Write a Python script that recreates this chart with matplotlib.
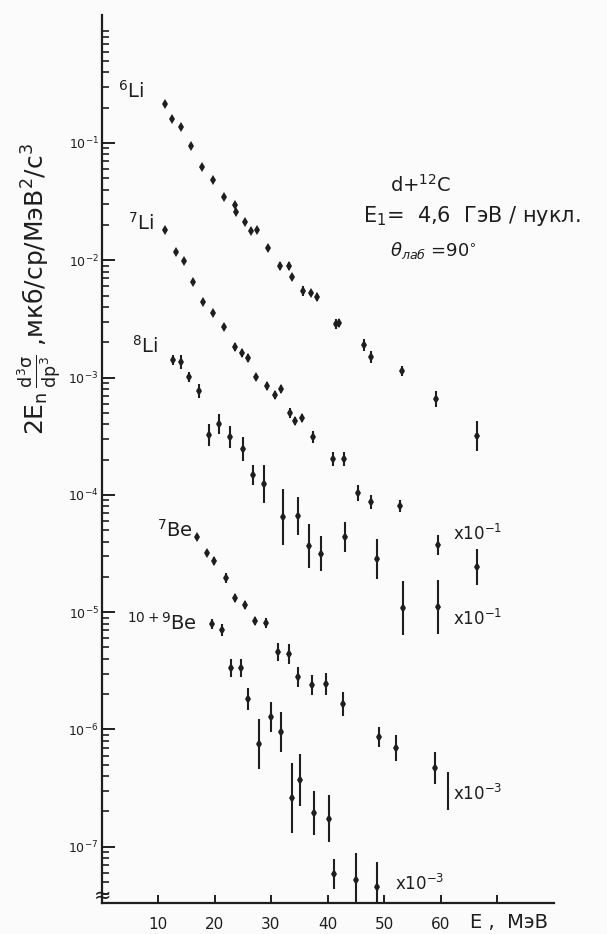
import numpy as np
import matplotlib.pyplot as plt

# d + 12C -> fragments, E = 4.6 GeV/nucleon, theta_lab = 90 deg
# energy E (MeV), invariant cross section, error half-width in decades

li6_e = [11.2, 12.5, 14.1, 15.8, 17.8, 19.7, 21.7, 23.6, 23.8, 25.4, 26.5, 27.5, 29.5,
         31.6, 33.2, 33.7, 35.7, 37.1, 38.1, 41.5, 42.0, 46.5, 47.7, 53.2, 59.2, 66.5]
li6_y = [0.215, 0.160, 0.137, 0.0943, 0.0624, 0.0484, 0.0346, 0.0296, 0.0258, 0.0212,
         0.0178, 0.0181, 0.0127, 8.94e-3, 8.94e-3, 7.21e-3, 5.47e-3, 5.26e-3, 4.87e-3,
         2.86e-3, 2.92e-3, 1.90e-3, 1.50e-3, 1.14e-3, 6.57e-4, 3.18e-4]
li6_err = [0, 0, 0, 0, 0, 0.02, 0.02, 0.02, 0.02, 0.02, 0.02, 0.02, 0.02,
           0.035, 0.035, 0.025, 0.045, 0.025, 0.035, 0.045, 0.035, 0.05, 0.05, 0.045, 0.07, 0.13]

li7_e = [11.2, 13.2, 14.6, 16.2, 18.0, 19.7, 21.7, 23.6, 24.9, 25.9, 27.3, 29.3, 30.7,
         31.8, 33.4, 34.2, 35.5, 37.4, 41.0, 42.9, 45.4, 47.7, 52.8, 59.6, 66.5]
li7_y = [0.0181, 0.0118, 9.86e-3, 6.53e-3, 4.41e-3, 3.55e-3, 2.70e-3, 1.82e-3, 1.62e-3,
         1.47e-3, 1.01e-3, 8.48e-4, 7.11e-4, 8.00e-4, 4.99e-4, 4.27e-4, 4.52e-4, 3.12e-4,
         2.02e-4, 2.02e-4, 1.04e-4, 8.70e-5, 8.04e-5, 3.74e-5, 2.43e-5]
li7_err = [0, 0, 0, 0, 0.02, 0.025, 0.025, 0.035, 0.035, 0.035, 0.025, 0.035, 0.035,
           0.035, 0.045, 0.035, 0.035, 0.05, 0.06, 0.06, 0.07, 0.06, 0.05, 0.085, 0.15]

li8_e = [12.7, 14.1, 15.5, 17.3, 19.0, 20.8, 22.7, 25.0, 26.8, 28.8, 32.1, 34.8, 36.7,
         38.8, 43.1, 48.8, 53.4, 59.6]
li8_y = [1.41e-3, 1.36e-3, 1.01e-3, 7.69e-4, 3.24e-4, 4.02e-4, 3.12e-4, 2.46e-4, 1.48e-4,
         1.24e-4, 6.48e-5, 6.61e-5, 3.67e-5, 3.14e-5, 4.38e-5, 2.84e-5, 1.09e-5, 1.11e-5]
li8_err = [0.045, 0.06, 0.045, 0.06, 0.095, 0.085, 0.095, 0.10, 0.085, 0.16, 0.24, 0.16,
           0.19, 0.15, 0.13, 0.17, 0.23, 0.23]

be7_e = [16.9, 18.7, 19.9, 22.0, 23.6, 25.4, 27.2, 29.1, 31.2, 33.2, 34.8, 37.3, 39.7,
         42.7, 49.1, 52.1, 59.0]
be7_y = [4.38e-5, 3.20e-5, 2.73e-5, 1.96e-5, 1.32e-5, 1.15e-5, 8.41e-6, 8.09e-6, 4.58e-6,
         4.40e-6, 2.80e-6, 2.40e-6, 2.44e-6, 1.65e-6, 8.63e-7, 6.96e-7, 4.70e-7]
be7_err = [0, 0.025, 0.035, 0.045, 0.035, 0.035, 0.035, 0.045, 0.08, 0.085, 0.085, 0.085,
           0.095, 0.10, 0.085, 0.11, 0.14]
# bar without a point next to the x10^-3 mark
be7_bar_e = [61.3]
be7_bar_y = [2.99e-7]
be7_bar_err = [0.16]

be109_e = [19.6, 21.3, 22.9, 24.7, 25.9, 27.9, 30.0, 31.8, 33.7, 35.1, 37.6, 40.3, 41.2,
           45.0, 48.8]
be109_y = [7.93e-6, 7.05e-6, 3.34e-6, 3.34e-6, 1.82e-6, 7.52e-7, 1.28e-6, 9.52e-7, 2.61e-7,
           3.71e-7, 1.94e-7, 1.73e-7, 5.86e-8, 5.21e-8, 4.54e-8]
be109_err = [0.045, 0.05, 0.08, 0.08, 0.095, 0.21, 0.13, 0.17, 0.30, 0.22, 0.19, 0.20,
             0.13, 0.23, 0.21]

ink = '#1e1e1e'
W, H = 607, 934

fig = plt.figure(figsize=(W / 100, H / 100), dpi=100)
fig.patch.set_facecolor('#fbfbfb')
ax = fig.add_axes([101.5 / W, 1 - 903 / H, 452 / W, 888 / H])
ax.set_facecolor('#fbfbfb')


def draw(e, y, err, marker='d'):
    y = np.array(y)
    err = np.array(err)
    lo = y - y * 10 ** (-err)
    hi = y * 10 ** err - y
    ax.errorbar(e, y, yerr=[lo, hi], fmt=marker, color=ink, ms=5.5, mew=0,
                elinewidth=1.5, capsize=0)


draw(li6_e, li6_y, li6_err)
draw(li7_e, li7_y, li7_err)
draw(li8_e, li8_y, li8_err)
draw(be7_e, be7_y, be7_err)
draw(be7_bar_e, be7_bar_y, be7_bar_err, marker='none')
draw(be109_e, be109_y, be109_err)

ax.set_yscale('log')
ax.set_xlim(0, 80)
ax.set_ylim(3.32e-8, 1.23)

for s in ['top', 'right']:
    ax.spines[s].set_visible(False)
for s in ['left', 'bottom']:
    ax.spines[s].set_color(ink)
    ax.spines[s].set_linewidth(1.6)

ax.set_xticks([10, 20, 30, 40, 50, 60, 70])
ax.set_xticklabels(['10', '20', '30', '40', '50', '60', ''])
exps = [-1, -2, -3, -4, -5, -6, -7]
ax.set_yticks([10.0 ** k for k in exps])
ax.set_yticklabels([r'$10^{%d}$' % k for k in exps])
ax.yaxis.set_minor_locator(plt.matplotlib.ticker.LogLocator(base=10, subs=np.arange(2, 10)))
ax.yaxis.set_minor_formatter(plt.NullFormatter())
ax.tick_params(axis='y', which='major', direction='in', length=9, width=1.4,
               labelsize=9, pad=2, colors=ink)
ax.tick_params(axis='y', which='minor', direction='in', length=5, width=1.2, colors=ink)
ax.tick_params(axis='x', direction='in', length=6, width=1.4, labelsize=11, pad=10,
               colors=ink)


def label(px, py, s, size=13, **kw):
    fig.text(px / W, 1 - py / H, s, fontsize=size, color=ink, **kw)


# fragment names
label(118, 98, r'$^6$Li', size=14)
label(128, 230, r'$^7$Li', size=14)
label(132, 353, r'$^8$Li', size=14)
label(157, 537, r'$^7$Be', size=14)
label(127, 630, r'$^{10+9}$Be', size=14)

# reaction
label(390, 192, r'd+$^{12}$C', size=14)
label(363, 222, r'E$_1$=  4,6  ГэВ / нукл.', size=15)
label(390, 256, r'$\theta_{лаб}$ =90$^{\circ}$', size=13)

# scale factors
label(453, 540, r'x10$^{-1}$', size=12)
label(453, 625, r'x10$^{-1}$', size=12)
label(453, 800, r'x10$^{-3}$', size=12)
label(395, 890, r'x10$^{-3}$', size=12)

# break mark at the foot of the y axis
label(103, 896, '≈', size=15, ha='center', va='center')

label(470, 928, 'E ,  МэВ', size=14)
fig.text(40 / W, 1 - 289 / H,
         r'$\mathrm{2E_n\,\frac{d^3\sigma}{dp^3}}$ ,мкб/ср/МэВ$^2$/с$^3$',
         fontsize=18, color=ink, rotation=90, ha='center', va='center')

fig.savefig('out.png', dpi=100, facecolor=fig.get_facecolor())
